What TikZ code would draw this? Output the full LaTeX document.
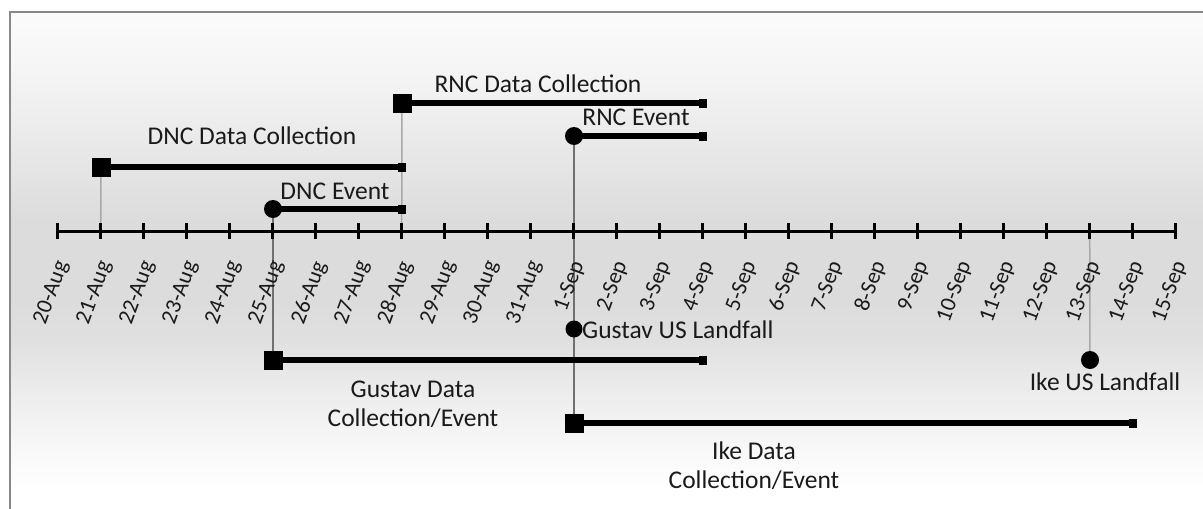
\documentclass[tikz,border=0pt]{standalone}
\usepackage{fontspec}
\setmainfont{Carlito}
\pgfdeclarelayer{shadelayer}
\pgfdeclarelayer{linelayer}
\pgfsetlayers{shadelayer,linelayer,main}
\definecolor{bgA}{HTML}{FAFAFA}
\definecolor{bgB}{HTML}{EEEEEE}
\definecolor{bgC}{HTML}{E0E0E0}
\definecolor{bgD}{HTML}{DCDCDC}
\definecolor{bgE}{HTML}{EBEBEB}
\definecolor{bgF}{HTML}{F6F6F6}
\definecolor{frameC}{HTML}{888888}
\definecolor{lightC}{HTML}{A8A8A8}
\definecolor{darkC}{HTML}{707070}
\definecolor{textC}{HTML}{1A1A1A}
\pgfdeclareverticalshading{chartbg}{100bp}{color(0bp)=(white); color(27bp)=(white); color(29.9bp)=(bgA); color(36bp)=(bgB); color(42bp)=(bgC); color(46bp)=(bgD); color(54bp)=(bgD); color(63bp)=(bgE); color(70bp)=(bgF); color(74bp)=(bgA); color(100bp)=(bgA)}
\tikzset{
  sq/.style={draw=none,fill=black,minimum size=19pt,inner sep=0pt,outer sep=0pt},
  dot/.style={circle,draw=none,fill=black,minimum size=18pt,inner sep=0pt,outer sep=0pt},
  endsq/.style={draw=none,fill=black,minimum width=8pt,minimum height=9pt,inner sep=0pt,outer sep=0pt},
  bar/.style={line width=5.5pt,black},
  lab/.style={text=textC,font=\fontsize{25.5}{29}\selectfont,inner sep=0pt},
  ticklab/.style={text=textC,font=\fontsize{22.5}{26}\selectfont,inner sep=0pt,anchor=east,rotate=70},
  axisline/.style={line width=3pt,black},
  tickmark/.style={line width=3pt,black},
  lightlink/.style={line width=1.5pt,lightC},
  darklink/.style={line width=1.5pt,darkC},
}
\begin{document}
\begin{tikzpicture}[x=1pt,y=-1pt]
\useasboundingbox (0,0) rectangle (1203,509);
\begin{pgfonlayer}{shadelayer}
  \shade[shading=chartbg] (10,12) rectangle (1203,509);
  \draw[frameC,line width=2pt] (10,509) -- (10,12) -- (1203,12);
\end{pgfonlayer}
% axis coordinates
\foreach \i in {0,...,26} {
  \coordinate (t\i) at ({57.7+43*\i},231);
}
\draw[axisline] (t0) -- (t26);
\foreach \i in {0,...,26} {
  \draw[tickmark] ([yshift=-8pt]t\i) -- ([yshift=8pt]t\i);
}
\foreach \lab [count=\j from 0] in {20-Aug,21-Aug,22-Aug,23-Aug,24-Aug,25-Aug,26-Aug,27-Aug,28-Aug,29-Aug,30-Aug,31-Aug,1-Sep,2-Sep,3-Sep,4-Sep,5-Sep,6-Sep,7-Sep,8-Sep,9-Sep,10-Sep,11-Sep,12-Sep,13-Sep,14-Sep,15-Sep} {
  \node[ticklab] (l\j) at ({57.7+43*\j+5},262) {\lab};
}
% DNC Data Collection
\node[sq] (dncS) at (101,167) {};
\node[endsq] (dncE) at (402,167) {};
\draw[bar] (dncS.center) -- (dncE.center);
\node[lab] (dncL) at (252,136) {DNC Data Collection};
% DNC Event
\node[dot] (dnceS) at (273,209) {};
\node[endsq] (dnceE) at (402,209) {};
\draw[bar] (dnceS.center) -- (dnceE.center);
\node[lab] (dnceL) at (335,191) {DNC Event};
% RNC Data Collection
\node[sq] (rncS) at (402,103) {};
\node[endsq] (rncE) at (703,103) {};
\draw[bar] (rncS.center) -- (rncE.center);
\node[lab] (rncL) at (538,84) {RNC Data Collection};
% RNC Event
\node[dot] (rnceS) at (574,136) {};
\node[endsq] (rnceE) at (703,136) {};
\draw[bar] (rnceS.center) -- (rnceE.center);
\node[lab] (rnceL) at (636,117) {RNC Event};
% Gustav landfall
\node[dot,minimum size=17pt] (gusLF) at (574,329) {};
\node[lab,anchor=west] (gusLFT) at (582,330) {Gustav US Landfall};
% Gustav data collection
\node[sq] (gusS) at (273,360) {};
\node[endsq] (gusE) at (703,360) {};
\draw[bar] (gusS.center) -- (gusE.center);
\node[lab,align=center] (gusT) at (413,404) {Gustav Data\\Collection/Event};
% Ike data collection
\node[sq] (ikeS) at (574,423) {};
\node[endsq] (ikeE) at (1133,423) {};
\draw[bar] (ikeS.center) -- (ikeE.center);
\node[lab,align=center] (ikeT) at (754,466) {Ike Data\\Collection/Event};
% Ike landfall
\node[dot] (ikeLF) at (1090,360) {};
\node[lab] (ikeLFT) at (1105,382) {Ike US Landfall};
% vertical links
\begin{pgfonlayer}{linelayer}
  \draw[lightlink] (dncS.center) -- (t1);
  \draw[lightlink] (rncS.center) -- (t8);
  \draw[lightlink] (t24) -- (ikeLF.center);
  \draw[darklink] (dnceS.center) -- (gusS.center);
  \draw[darklink] (rnceS.center) -- (ikeS.center);
\end{pgfonlayer}
\end{tikzpicture}
\end{document}
